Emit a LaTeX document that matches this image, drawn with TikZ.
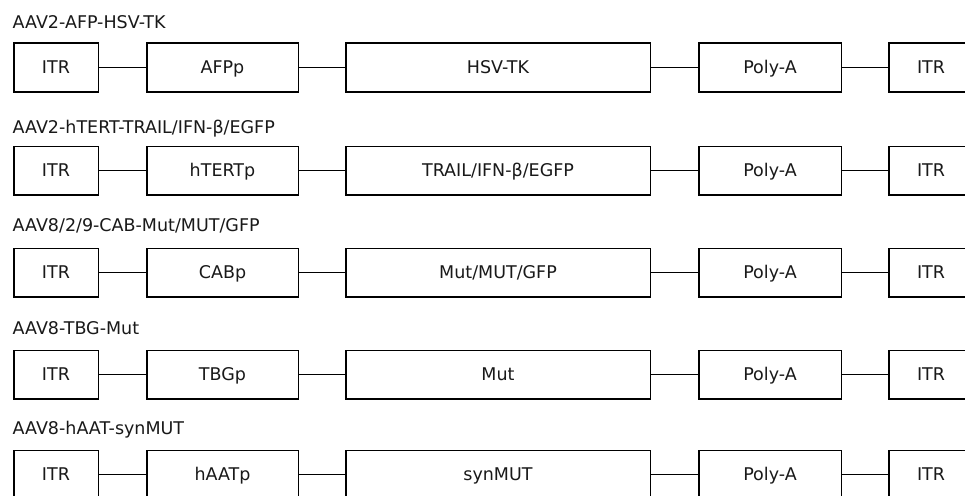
\documentclass[tikz,border=0pt]{standalone}
\usepackage{fontspec}
\setmainfont{DejaVu Sans}
\begin{document}
\begin{tikzpicture}[x=1pt,y=-1pt,
  font=\fontsize{17.5pt}{20pt}\selectfont,
  box/.style={draw=black,line width=1.5pt,fill=white,inner sep=0pt,minimum height=48.5pt,text=black!90,text height=12pt,text depth=0pt,yshift=-0.5pt},
  itrbox/.style={box,minimum width=84.5pt},
  probox/.style={box,minimum width=151.5pt},
  genebox/.style={box,minimum width=304.5pt},
  pabox/.style={box,minimum width=142.5pt},
  title/.style={anchor=base west,inner sep=0pt,text=black!90},
  link/.style={draw=black,line width=1.5pt}]
\clip (0,0) rectangle (965,495);
\fill[white] (0,0) rectangle (965,495);
% Row 1
\node[title] (t1) at (12.5,29) {AAV2-AFP-HSV-TK};
\node[itrbox]  (a1) at (56,67) {ITR};
\node[probox]  (b1) at (222.5,67) {AFPp};
\node[genebox] (c1) at (498,67) {HSV-TK};
\node[pabox]   (d1) at (770,67) {Poly-A};
\node[itrbox]  (e1) at (931,67) {ITR};
% Row 2
\node[title] (t2) at (12.5,133) {AAV2-hTERT-TRAIL/IFN-β/EGFP};
\node[itrbox]  (a2) at (56,170) {ITR};
\node[probox]  (b2) at (222.5,170) {hTERTp};
\node[genebox] (c2) at (498,170) {TRAIL/IFN-β/EGFP};
\node[pabox]   (d2) at (770,170) {Poly-A};
\node[itrbox]  (e2) at (931,170) {ITR};
% Row 3
\node[title] (t3) at (12.5,231) {AAV8/2/9-CAB-Mut/MUT/GFP};
\node[itrbox]  (a3) at (56,272) {ITR};
\node[probox]  (b3) at (222.5,272) {CABp};
\node[genebox] (c3) at (498,272) {Mut/MUT/GFP};
\node[pabox]   (d3) at (770,272) {Poly-A};
\node[itrbox]  (e3) at (931,272) {ITR};
% Row 4
\node[title] (t4) at (12.5,334) {AAV8-TBG-Mut};
\node[itrbox]  (a4) at (56,374) {ITR};
\node[probox]  (b4) at (222.5,374) {TBGp};
\node[genebox] (c4) at (498,374) {Mut};
\node[pabox]   (d4) at (770,374) {Poly-A};
\node[itrbox]  (e4) at (931,374) {ITR};
% Row 5
\node[title] (t5) at (12.5,434) {AAV8-hAAT-synMUT};
\node[itrbox]  (a5) at (56,474) {ITR};
\node[probox]  (b5) at (222.5,474) {hAATp};
\node[genebox] (c5) at (498,474) {synMUT};
\node[pabox]   (d5) at (770,474) {Poly-A};
\node[itrbox]  (e5) at (931,474) {ITR};
\foreach \r in {1,...,5}{
  \draw[link] (a\r) -- (b\r);
  \draw[link] (b\r) -- (c\r);
  \draw[link] (c\r) -- (d\r);
  \draw[link] (d\r) -- (e\r);
}
\end{tikzpicture}
\end{document}
